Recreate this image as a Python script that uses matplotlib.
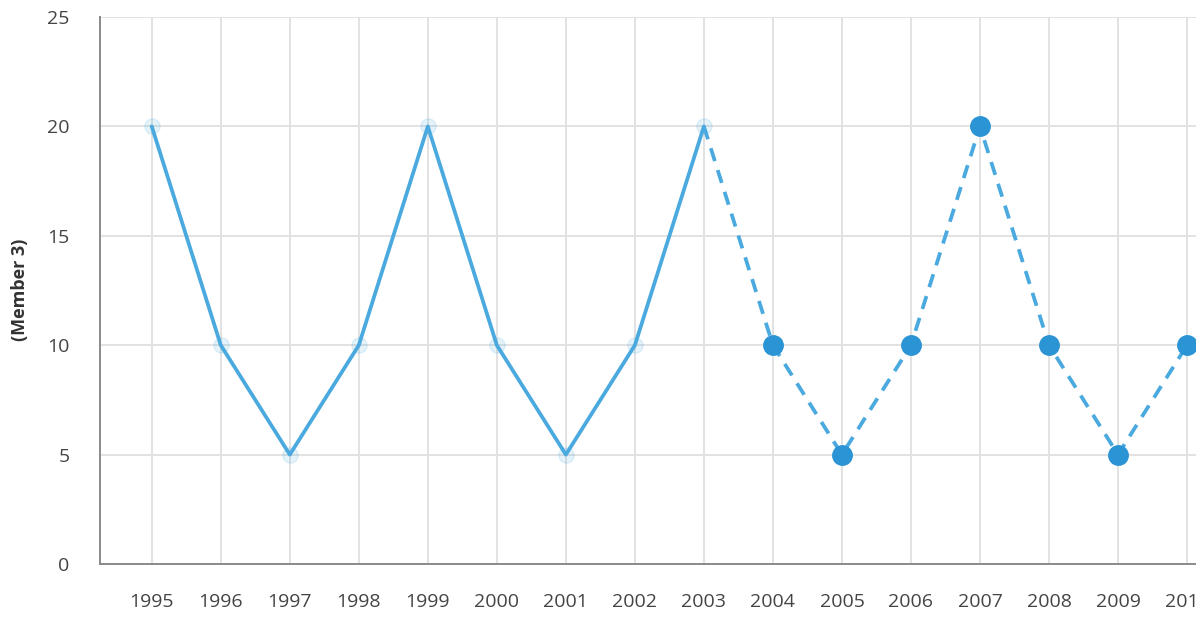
import matplotlib
matplotlib.use("Agg")
import matplotlib.pyplot as plt

# Member 3 series: observed years (solid) and projected years (dashed)
years_actual = [1995, 1996, 1997, 1998, 1999, 2000, 2001, 2002, 2003]
values_actual = [20, 10, 5, 10, 20, 10, 5, 10, 20]
years_proj = [2003, 2004, 2005, 2006, 2007, 2008, 2009, 2010]
values_proj = [20, 10, 5, 10, 20, 10, 5, 10]
y_ticks = [0, 5, 10, 15, 20, 25]
y_label = "(Member 3)"

line_color = "#4aa9de"
dot_color = "#2b94d4"

fig = plt.figure(figsize=(11.96, 6.18), dpi=100)
ax = fig.add_axes([100 / 1196, 54 / 618, 1 - 100 / 1196, (564 - 17) / 618])

# faint halo markers on the observed part
ax.plot(years_actual, values_actual, linestyle="none", marker="o",
        markersize=11, color=line_color, alpha=0.15, zorder=3)
ax.plot(years_actual, values_actual, color=line_color, linewidth=2.7,
        solid_capstyle="round", zorder=4)

# projected part: dashed with solid dots
ax.plot(years_proj, values_proj, color=line_color, linewidth=2.7,
        linestyle=(0, (3.6, 2.5)), zorder=4)
ax.plot(years_proj[1:], values_proj[1:], linestyle="none", marker="o",
        markersize=14, color=dot_color, zorder=5)

ax.set_xlim(1994.25, 2010.13)
ax.set_ylim(0, 25)
ax.set_xticks(list(range(1995, 2011)))
ax.set_xticklabels([str(y) for y in range(1995, 2011)])
ax.set_yticks(y_ticks)

ax.grid(True, color="#e2e2e2", linewidth=1.4)
ax.set_axisbelow(True)
for s in ["top", "right"]:
    ax.spines[s].set_visible(False)
for s in ["left", "bottom"]:
    ax.spines[s].set_color("#8a8a8a")
    ax.spines[s].set_linewidth(1.4)

ax.tick_params(axis="both", length=0, labelsize=14, colors="#444444",
               labelfontfamily="Open Sans")
ax.tick_params(axis="x", pad=21)
ax.tick_params(axis="y", pad=22)

fig.text(20 / 1196, 1 - 290 / 618, y_label, rotation=90, ha="center",
         va="center", fontsize=13, fontweight="bold", color="#333333",
         family="Open Sans")

fig.savefig("out.png", dpi=100)
